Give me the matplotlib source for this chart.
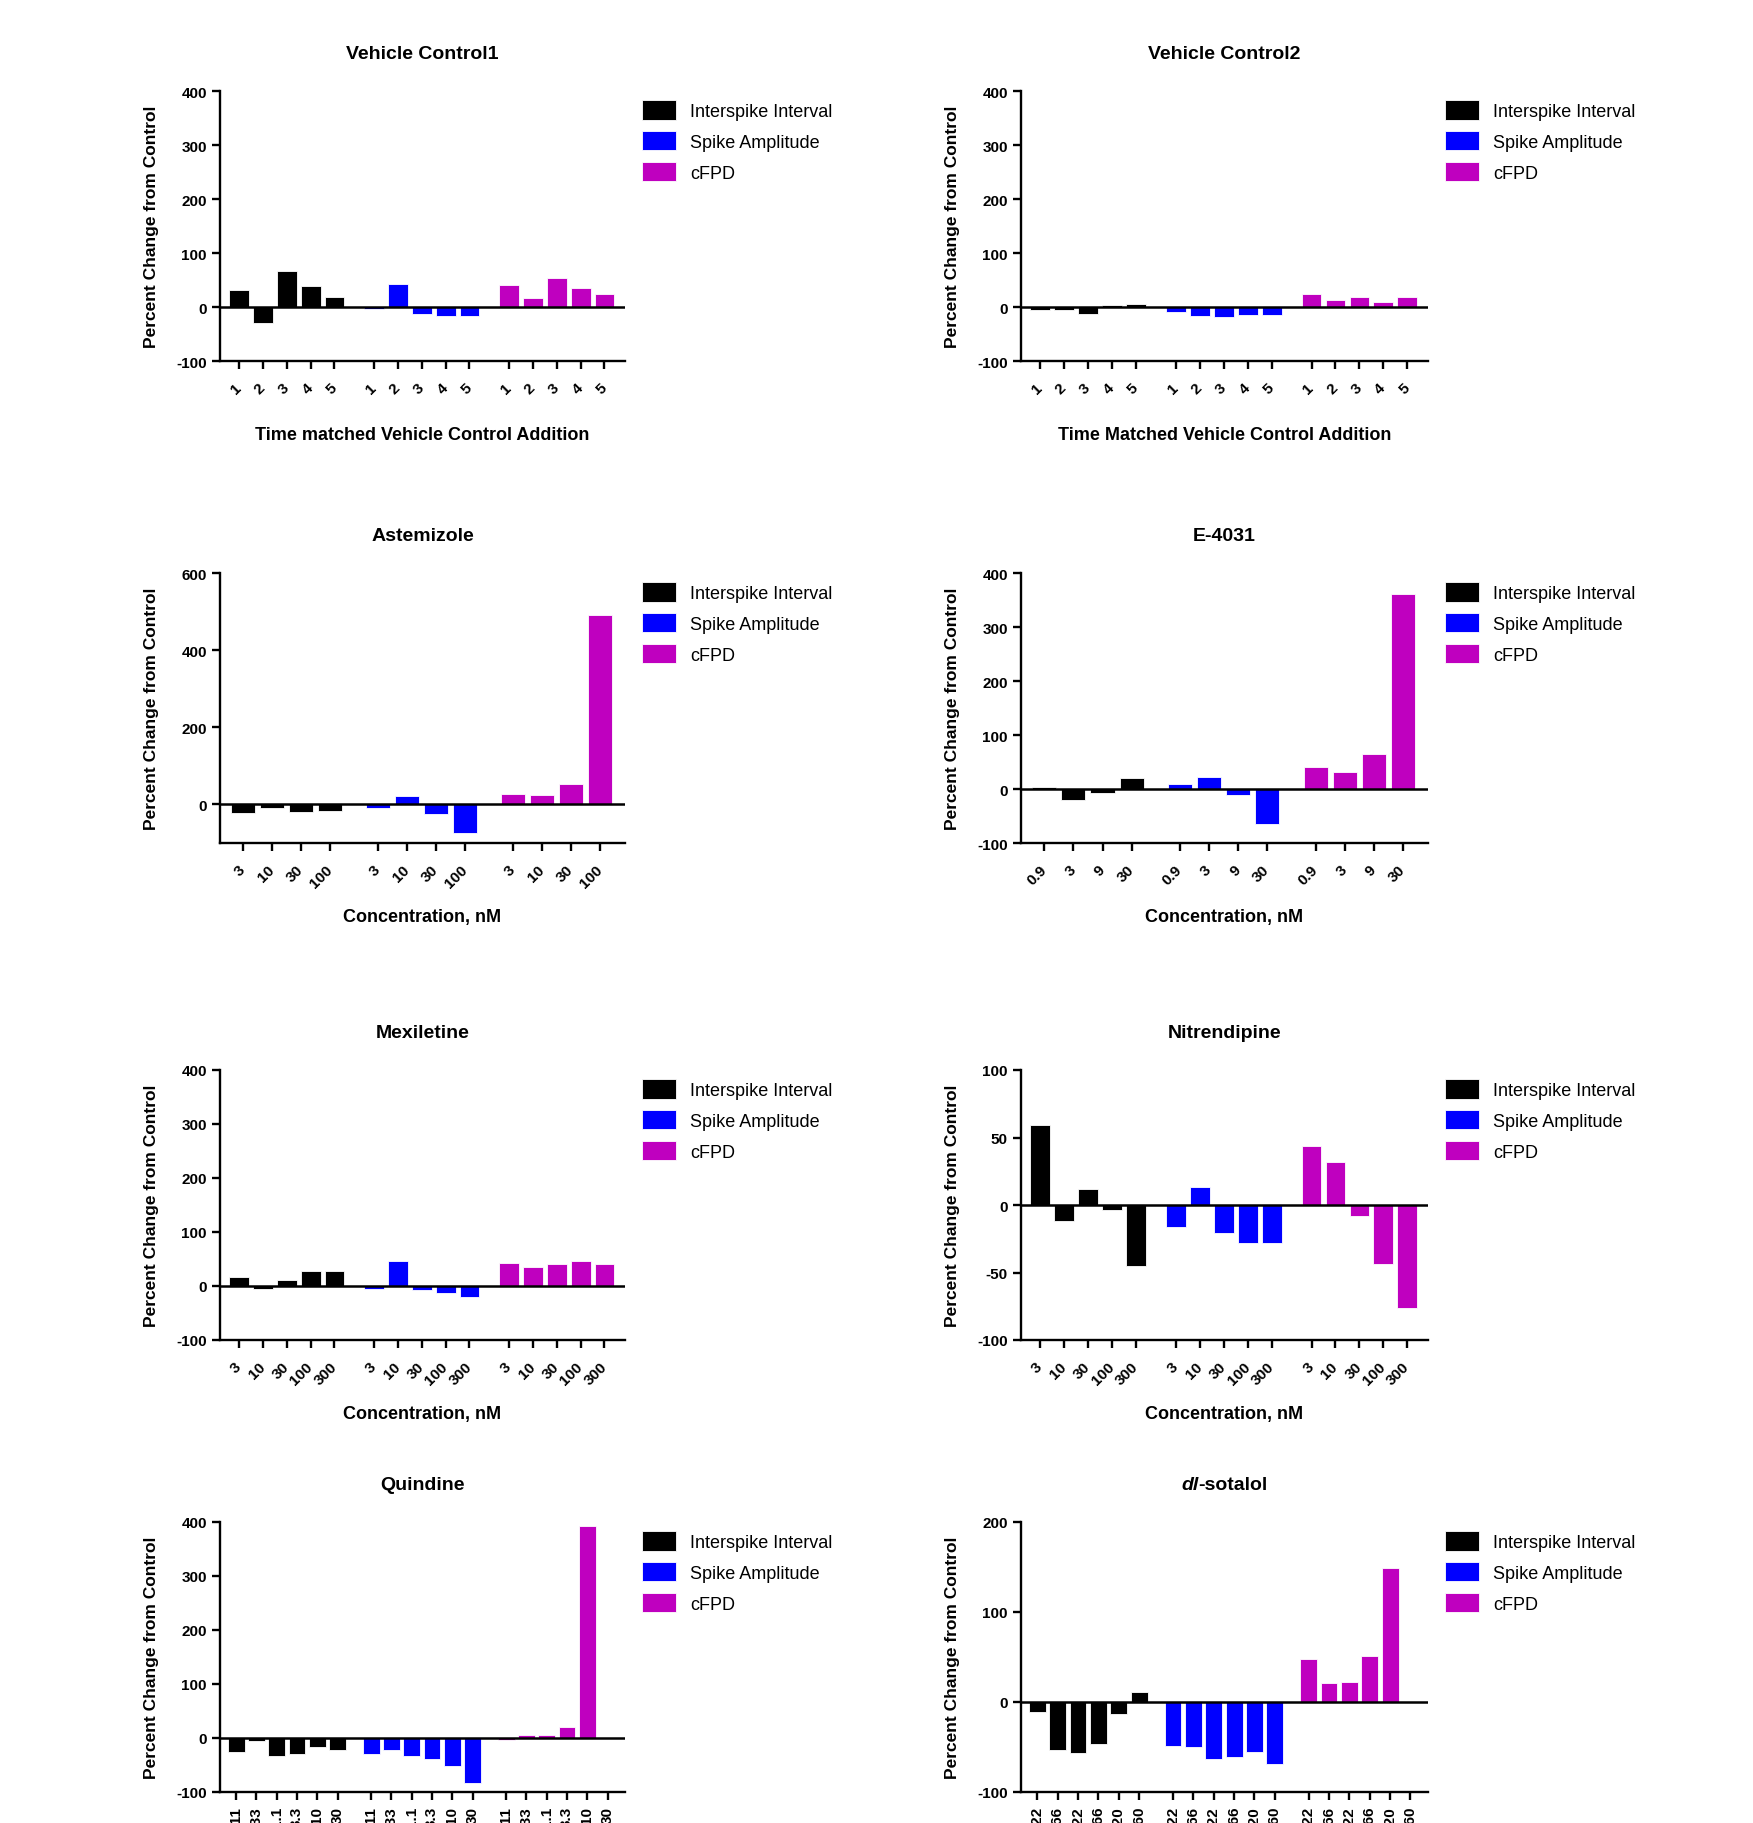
import numpy as np
import matplotlib
matplotlib.use('Agg')
import matplotlib.pyplot as plt

plt.rcParams['font.family'] = ['Liberation Sans', 'DejaVu Sans']
plt.rcParams['axes.unicode_minus'] = False

series_names = ['Interspike Interval', 'Spike Amplitude', 'cFPD']
series_colors = ['#000000', '#0000FF', '#BF00BF']

# values (percent change from control)
vc_labels = ['1', '2', '3', '4', '5']
vc1_isi = [32, -30, 66, 38, 18]
vc1_amp = [-4, 43, -13, -17, -17]
vc1_cfpd = [41, 17, 54, 36, 25]

vc2_isi = [-5, -5, -13, 4, 6]
vc2_amp = [-9, -17, -18, -15, -15]
vc2_cfpd = [25, 13, 18, 9, 18]

ast_labels = ['3', '10', '30', '100']
ast_isi = [-21, -10, -20, -17]
ast_amp = [-8, 22, -25, -73]
ast_cfpd = [27, 25, 52, 490]

e4031_labels = ['0.9', '3', '9', '30']
e4031_isi = [4, -20, -7, 21]
e4031_amp = [9, 23, -12, -65]
e4031_cfpd = [41, 32, 65, 361]

mex_labels = ['3', '10', '30', '100', '300']
mex_isi = [17, -6, 12, 28, 27]
mex_amp = [-6, 46, -7, -13, -20]
mex_cfpd = [43, 35, 40, 47, 41]

nit_labels = ['3', '10', '30', '100', '300']
nit_isi = [59, -12, 12, -3.5, -45]
nit_amp = [-16, 13, -21, -28, -28]
nit_cfpd = [44, 32, -8, -44, -76]

quin_labels = ['0.11', '0.33', '1.1', '3.3', '10', '30']
quin_isi = [-25, -5, -34, -30, -17, -22]
quin_amp = [-30, -22, -33, -38, -52, -84]
quin_cfpd = [-3, 5, 5, 21, 393, np.nan]

sot_labels = ['0.022', '0.066', '0.22', '0.66', '2.20', '6.60']
sot_isi = [-11, -53, -57, -47, -13, 11]
sot_amp = [-49, -50, -63, -61, -56, -69]
sot_cfpd = [48, 21, 22, 51, 149, np.nan]

W, H = 1753, 1824
fig = plt.figure(figsize=(W / 100, H / 100), dpi=100)

col_left = [220, 1021]
col_width = [405, 407]
row_top = [92, 574, 1071, 1523]
ax_h = 270


def panel(row, col, title, labels, isi, amp, cfpd, ylim, yticks, xlabel=None, rot=45):
    left = col_left[col] / W
    bottom = 1 - (row_top[row] + ax_h) / H
    ax = fig.add_axes([left, bottom, col_width[col] / W, ax_h / H])

    n = len(labels)
    step = n + 0.66
    ticks = []
    for g, vals in enumerate([isi, amp, cfpd]):
        xs = [g * step + i for i in range(n)]
        ticks += xs
        ax.bar(xs, vals, width=0.83, color=series_colors[g], edgecolor='white',
               linewidth=0.6, label=series_names[g], zorder=2)
    ax.axhline(0, color='black', lw=1.8, zorder=3)

    ax.set_xlim(-0.8, 2 * step + n - 1 + 0.86)
    ax.set_ylim(*ylim)
    ax.set_yticks(yticks)
    ax.set_xticks(ticks)
    ax.set_xticklabels(labels * 3)
    for s in ['top', 'right']:
        ax.spines[s].set_visible(False)
    for s in ['left', 'bottom']:
        ax.spines[s].set_linewidth(1.7)
    ax.tick_params(axis='both', length=5.5, width=1.7, labelsize=11)
    ax.tick_params(axis='y', pad=4)
    for t in ax.get_yticklabels():
        t.set_fontweight('bold')
    if rot == 45:
        ax.tick_params(axis='x', pad=12)
    else:
        ax.tick_params(axis='x', pad=4.5)
    for t in ax.get_xticklabels():
        t.set_rotation(rot)
        t.set_ha('right')
        t.set_va('center')
        t.set_rotation_mode('anchor')
        t.set_fontweight('bold')

    ax.set_ylabel('Percent Change from Control', fontsize=12.5, fontweight='bold')
    ax.yaxis.set_label_coords(-0.151, 0.5)
    if xlabel:
        ax.set_xlabel(xlabel, fontsize=13, fontweight='bold')
        ax.xaxis.set_label_coords(0.5, -0.24)
    if title:
        ax.set_title(title, fontsize=14, fontweight='bold', pad=24)

    ax.legend(loc='upper left', bbox_to_anchor=(1.042, 0.965), frameon=False,
              borderpad=0, borderaxespad=0, fontsize=13, handlelength=1.86,
              handleheight=1.25, handletextpad=0.8, labelspacing=0.62)
    return ax


panel(0, 0, 'Vehicle Control1', vc_labels, vc1_isi, vc1_amp, vc1_cfpd,
      (-100, 400), range(-100, 401, 100), 'Time matched Vehicle Control Addition')
panel(0, 1, 'Vehicle Control2', vc_labels, vc2_isi, vc2_amp, vc2_cfpd,
      (-100, 400), range(-100, 401, 100), 'Time Matched Vehicle Control Addition')
panel(1, 0, 'Astemizole', ast_labels, ast_isi, ast_amp, ast_cfpd,
      (-100, 600), range(0, 601, 200), 'Concentration, nM')
panel(1, 1, 'E-4031', e4031_labels, e4031_isi, e4031_amp, e4031_cfpd,
      (-100, 400), range(-100, 401, 100), 'Concentration, nM')
panel(2, 0, 'Mexiletine', mex_labels, mex_isi, mex_amp, mex_cfpd,
      (-100, 400), range(-100, 401, 100), 'Concentration, nM')
panel(2, 1, 'Nitrendipine', nit_labels, nit_isi, nit_amp, nit_cfpd,
      (-100, 100), range(-100, 101, 50), 'Concentration, nM')
panel(3, 0, 'Quindine', quin_labels, quin_isi, quin_amp, quin_cfpd,
      (-100, 400), range(-100, 401, 100), rot=90)
ax_sot = panel(3, 1, None, sot_labels, sot_isi, sot_amp, sot_cfpd,
               (-100, 200), range(-100, 201, 100), rot=90)

# title with italic "dl" prefix, centred as a whole over the axes
t1 = ax_sot.annotate('dl', xy=(0.5, 1), xycoords='axes fraction', xytext=(0, 24),
                     textcoords='offset points', ha='right', va='baseline',
                     fontsize=14, fontweight='bold', fontstyle='italic')
t2 = ax_sot.annotate('-sotalol', xy=(0.5, 1), xycoords='axes fraction', xytext=(0, 24),
                     textcoords='offset points', ha='left', va='baseline',
                     fontsize=14, fontweight='bold')
fig.canvas.draw()
r = fig.canvas.get_renderer()
w1 = t1.get_window_extent(r).width
w2 = t2.get_window_extent(r).width
shift = (w1 - w2) / 2 * 72 / fig.dpi
t1.set_position((shift, 24))
t2.set_position((shift, 24))

fig.savefig('out.png', dpi=100)
